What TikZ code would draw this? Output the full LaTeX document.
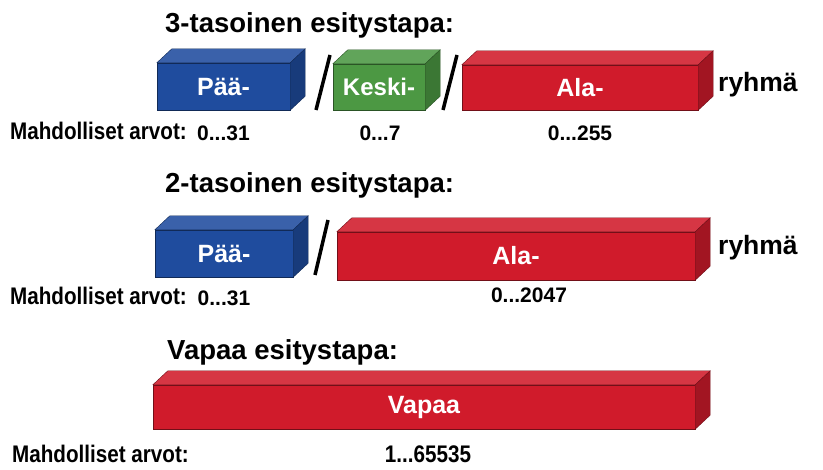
\documentclass[tikz,border=0pt]{standalone}
\usepackage{fontspec}
\setmainfont{Liberation Sans}
\newfontfamily\kapea[FakeStretch=0.86]{Liberation Sans}
\usepackage{tikz}
\definecolor{sininen}{HTML}{1F4C9E}
\definecolor{vihrea}{HTML}{4C9843}
\definecolor{punainen}{HTML}{D01B2B}
\tikzset{
  otsikko/.style={anchor=base west, inner sep=0pt, font=\bfseries\fontsize{27.5}{32}\selectfont},
  etu/.style={draw=#1!55!black, fill=#1, text=white, inner sep=0pt, font=\bfseries\fontsize{25}{30}\selectfont},
  arvo/.style={anchor=base, inner sep=0pt, font=\bfseries\fontsize{21}{25}\selectfont},
  selite/.style={anchor=base west, inner sep=0pt, font=\kapea\bfseries\fontsize{24}{28}\selectfont},
  kauttaviiva/.style={line width=3.5pt},
}
\newcommand{\palkki}[2]{
    \filldraw[draw=#2!55!black, fill=#2!88!white] (#1.north west) -- ([shift={(15,-14)}]#1.north west) -- ([shift={(15,-14)}]#1.north east) -- (#1.north east) -- cycle;
    \filldraw[draw=#2!55!black, fill=#2!78!black] (#1.north east) -- ([shift={(15,-14)}]#1.north east) -- ([shift={(15,-14)}]#1.south east) -- (#1.south east) -- cycle;
}
\begin{document}
\begin{tikzpicture}[x=1pt, y=-1pt]
        \useasboundingbox (0,0) rectangle (823,470);

        \node[otsikko] (otsikko1) at (165,33) {3-tasoinen esitystapa:};
        \node[etu=sininen, minimum width=133, minimum height=47] (paa1) at (223.5,86.5) {Pää-};
        \node[etu=vihrea, minimum width=92, minimum height=46, font=\bfseries\fontsize{24}{28}\selectfont] (keski1) at (379,87) {Keski-};
        \node[etu=punainen, minimum width=236, minimum height=45] (ala1) at (580,87.5) {Ala-};
        \palkki{paa1}{sininen}
        \palkki{keski1}{vihrea}
        \palkki{ala1}{punainen}
        \draw[kauttaviiva] (330,55) -- (316,110);
        \draw[kauttaviiva] (457,55) -- (443,110);
        \node[otsikko, font=\bfseries\fontsize{26.5}{30}\selectfont] (ryhma1) at (718,92) {ryhmä};
        \node[selite] (arvot1) at (10,140) {Mahdolliset arvot:};
        \node[arvo] (paa1arvo) at (223.5,141) {0...31};
        \node[arvo] (keski1arvo) at (380,141) {0...7};
        \node[arvo] (ala1arvo) at (580,141) {0...255};

        \node[otsikko] (otsikko2) at (165,193) {2-tasoinen esitystapa:};
        \node[etu=sininen, minimum width=138, minimum height=47] (paa2) at (224,253.5) {Pää-};
        \node[etu=punainen, minimum width=358, minimum height=48] (ala2) at (516,256) {Ala-};
        \palkki{paa2}{sininen}
        \palkki{ala2}{punainen}
        \draw[kauttaviiva] (328,220) -- (315,275);
        \node[otsikko, font=\bfseries\fontsize{26.5}{30}\selectfont] (ryhma2) at (718,255) {ryhmä};
        \node[selite] (arvot2) at (10,305) {Mahdolliset arvot:};
        \node[arvo] (paa2arvo) at (224,306) {0...31};
        \node[arvo] (ala2arvo) at (529,303) {0...2047};

        \node[otsikko] (otsikko3) at (167,360) {Vapaa esitystapa:};
        \node[etu=punainen, minimum width=542, minimum height=44] (vapaa) at (424,407) {Vapaa};
        \palkki{vapaa}{punainen}
        \node[selite] (arvot3) at (12,463) {Mahdolliset arvot:};
        \node[selite, anchor=base] (vapaaarvo) at (428,463) {1...65535};
\end{tikzpicture}
\end{document}
